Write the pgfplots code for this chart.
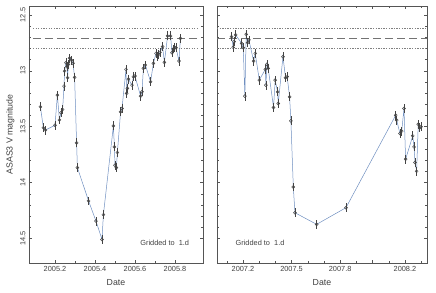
\documentclass[border=0pt]{standalone}
\usepackage{fontspec}
\setmainfont{Liberation Sans}
\usepackage{pgfplots}
\pgfplotsset{compat=1.18}
\definecolor{fr}{HTML}{555555}
\definecolor{ln}{HTML}{6F8FC0}
\definecolor{mk}{HTML}{444444}
\pgfplotsset{
  panel/.style={
    scale only axis, height=257bp,
    y dir=reverse, ymin=12.42, ymax=14.72,
    ytick={12.5,13,13.5,14,14.5}, minor y tick num=4,
    axis line style={fr, line width=0.5pt},
    tick style={fr, line width=0.4pt},
    major tick length=3bp, minor tick length=1.6bp,
    tick align=inside,
    ticklabel style={font=\fontsize{7.4}{8}\selectfont, text=black!75},
    /pgf/number format/assume math mode=true,
    label style={font=\fontsize{8.8}{10}\selectfont, text=black!75},
    xlabel={Date},
    xlabel style={yshift=-0.5bp},
    yticklabel style={rotate=90, anchor=south},
    clip=false,
  },
  series/.style={
    ln, line width=0.5pt, mark=o, mark size=1.5pt,
    mark options={draw=mk, fill=gray!35, line width=0.5pt, solid},
    error bars/.cd, y dir=both, y fixed=0.04,
    error bar style={mk, line width=0.6pt},
    error mark=none,
  },
}
\begin{document}
\begin{tikzpicture}
\useasboundingbox (0,0) rectangle (436bp,293bp);
\begin{axis}[panel, at={(29bp,30bp)}, anchor=south west, width=174bp,
  xmin=2005.07, xmax=2005.94,
  xtick={2005.2,2005.4,2005.6,2005.8},
  xticklabels={2005.2,2005.4,2005.6,2005.8},
  minor x tick num=1,
  ylabel={ASAS3 V magnitude}, ylabel style={yshift=-1bp}]
\addplot[gray, line width=0.5pt, dash pattern=on 1.3bp off 1.3bp] coordinates {(2005.09,12.617) (2005.92,12.617)};
\addplot[gray, line width=0.5pt, dash pattern=on 1.3bp off 1.3bp] coordinates {(2005.09,12.796) (2005.92,12.796)};
\addplot[gray!90!black, line width=0.5pt, dash pattern=on 8bp off 4bp] coordinates {(2005.09,12.705) (2005.92,12.705)};
\addplot[series] coordinates {
(2005.127,13.322) (2005.142,13.510) (2005.152,13.530) (2005.200,13.487)
(2005.212,13.217) (2005.222,13.440) (2005.230,13.376) (2005.238,13.346)
(2005.245,13.137) (2005.248,13.002) (2005.255,12.928) (2005.260,12.964)
(2005.263,13.062) (2005.267,12.942) (2005.273,12.886) (2005.282,12.904)
(2005.290,12.933) (2005.298,13.059) (2005.308,13.645) (2005.312,13.866)
(2005.368,14.165) (2005.405,14.345) (2005.435,14.509) (2005.442,14.288)
(2005.492,13.493) (2005.497,13.681) (2005.500,13.845) (2005.507,13.866)
(2005.512,13.731) (2005.528,13.367) (2005.535,13.337) (2005.555,12.987)
(2005.558,13.202) (2005.562,13.157) (2005.567,13.074) (2005.585,13.128)
(2005.592,13.053) (2005.600,13.047) (2005.628,13.226) (2005.635,13.188)
(2005.642,12.978) (2005.652,12.948) (2005.678,13.098) (2005.692,12.933)
(2005.705,12.844) (2005.712,12.868) (2005.718,12.853) (2005.725,12.835)
(2005.738,12.784) (2005.747,12.924) (2005.763,12.688) (2005.778,12.688)
(2005.785,12.838) (2005.792,12.805) (2005.798,12.793) (2005.805,12.793)
(2005.820,12.913) (2005.827,12.709)
};
\node[text=black!75, font=\fontsize{7.4}{8}\selectfont] at (axis description cs:0.78,0.078) {Gridded to\ \ 1.d};
\end{axis}
\begin{axis}[panel, at={(217bp,30bp)}, anchor=south west, width=210bp,
  xmin=2007.04, xmax=2008.336,
  xtick={2007.2,2007.5,2007.8,2008.0,2008.2},
  xticklabels={2007.2,2007.5,2007.8,,2008.2},
  minor xtick={2007.1,2007.3,2007.4,2007.6,2007.7,2007.9,2008.1,2008.3},
  yticklabels={}]
\addplot[gray, line width=0.5pt, dash pattern=on 1.3bp off 1.3bp] coordinates {(2007.04,12.617) (2008.336,12.617)};
\addplot[gray, line width=0.5pt, dash pattern=on 1.3bp off 1.3bp] coordinates {(2007.04,12.796) (2008.336,12.796)};
\addplot[gray!90!black, line width=0.5pt, dash pattern=on 8bp off 4bp] coordinates {(2007.04,12.705) (2008.336,12.705)};
\addplot[series] coordinates {
(2007.130,12.695) (2007.140,12.790) (2007.146,12.739) (2007.155,12.679)
(2007.192,12.754) (2007.202,12.793) (2007.212,13.226) (2007.220,12.673)
(2007.229,12.748) (2007.237,12.724) (2007.266,12.913) (2007.276,12.844)
(2007.301,13.083) (2007.338,12.987) (2007.342,13.128) (2007.348,12.942)
(2007.356,12.978) (2007.389,13.328) (2007.399,13.083) (2007.414,13.188)
(2007.418,13.292) (2007.447,12.874) (2007.463,13.062) (2007.473,13.053)
(2007.488,13.233) (2007.496,13.448) (2007.511,14.040) (2007.521,14.270)
(2007.655,14.374) (2007.836,14.225) (2008.143,13.397) (2008.149,13.442)
(2008.169,13.561) (2008.180,13.540) (2008.194,13.337) (2008.204,13.791)
(2008.248,13.582) (2008.256,13.681) (2008.262,13.821) (2008.272,13.899)
(2008.282,13.478) (2008.291,13.510) (2008.299,13.500)
};
\node[text=black!75, font=\fontsize{7.4}{8}\selectfont] at (axis description cs:0.205,0.078) {Gridded to\ \ 1.d};
\end{axis}
\end{tikzpicture}
\end{document}
